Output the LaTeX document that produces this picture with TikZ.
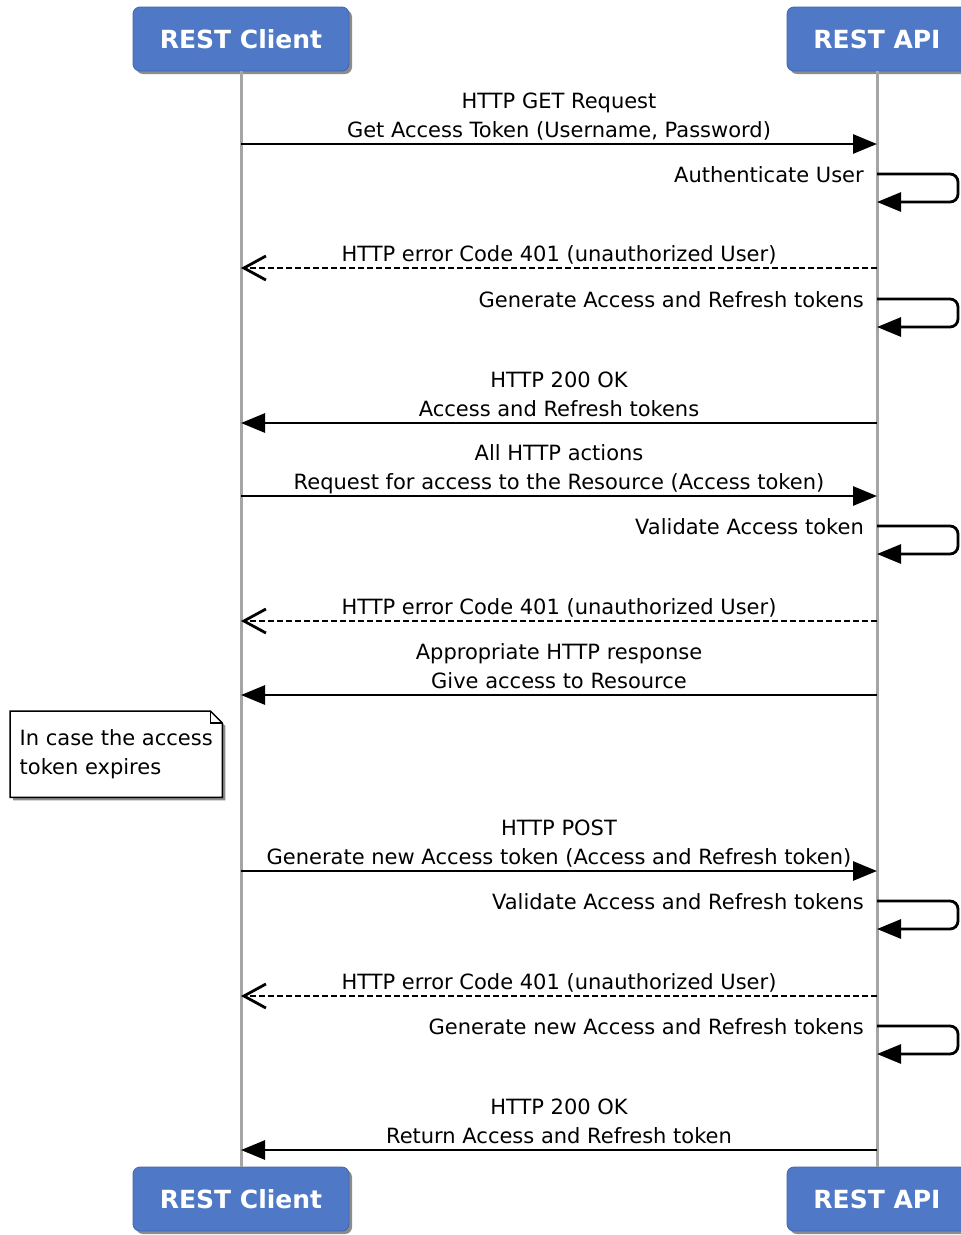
\documentclass[tikz,border=0pt]{standalone}
\usepackage{fontspec}
\setmainfont{DejaVu Sans}
\usetikzlibrary{arrows.meta,shadows,backgrounds}

\definecolor{actorblue}{RGB}{79,121,199}
\definecolor{actorline}{RGB}{64,100,172}
\definecolor{lifegray}{RGB}{165,165,165}

\tikzset{
	actor/.style={rectangle,rounded corners=7pt,fill=actorblue,draw=actorline,line width=0.8pt,text=white,font=\fontsize{25}{28}\selectfont\bfseries,minimum height=64pt,drop shadow={shadow xshift=3pt,shadow yshift=-3pt,opacity=0.45,fill=black}},
	lifeline/.style={draw=lifegray,line width=3pt},
	msgtext/.style={anchor=base,align=center,inner sep=0pt,font=\fontsize{21}{29}\selectfont},
	selftext/.style={anchor=base east,inner sep=0pt,font=\fontsize{21}{29}\selectfont},
	call/.style={line width=2.8pt,-{Triangle[length=24pt,width=19pt]}},
	reply/.style={line width=2.8pt,dash pattern=on 6pt off 3pt,-{Straight Barb[length=22pt,width=24pt]}},
	selfcall/.style={line width=2.8pt,rounded corners=8pt,-{Triangle[length=24pt,width=19pt]}},
	notebox/.style={rectangle,inner xsep=9pt,inner ysep=0pt,minimum width=212pt,minimum height=86pt,align=left,font=\fontsize{21}{29}\selectfont},
	noteline/.style={draw=black,line width=1.5pt,fill=white,drop shadow={shadow xshift=3pt,shadow yshift=-3pt,opacity=0.45,fill=black}}
}

\begin{document}
\begin{tikzpicture}[x=1pt,y=-1pt]
	
	\useasboundingbox (0,0) rectangle (961,1235);
	
	\node(clienttop) [actor,minimum width=216pt] at (241,39) {REST Client};
	
	\node(apitop) [actor,minimum width=180pt] at (877,39) {REST API};
	
	\node(clientbot) [actor,minimum width=216pt] at (241,1199) {REST Client};
	
	\node(apibot) [actor,minimum width=180pt] at (877,1199) {REST API};
	
	\draw[lifeline] (clienttop) -- (clientbot);
	
	\draw[lifeline] (apitop) -- (apibot);
	
	\coordinate (c1) at (241,144);
	\coordinate (a1) at (877,144);
	\coordinate (s1) at (877,174);
	\coordinate (s1end) at (877,202);
	\coordinate (r1) at (877,268);
	\coordinate (r1end) at (241,268);
	\coordinate (s2) at (877,299);
	\coordinate (s2end) at (877,327);
	\coordinate (a2) at (877,423);
	\coordinate (c2) at (241,423);
	\coordinate (c3) at (241,496);
	\coordinate (a3) at (877,496);
	\coordinate (s3) at (877,526);
	\coordinate (s3end) at (877,554);
	\coordinate (r2) at (877,621);
	\coordinate (r2end) at (241,621);
	\coordinate (a4) at (877,695);
	\coordinate (c4) at (241,695);
	\coordinate (c5) at (241,871);
	\coordinate (a5) at (877,871);
	\coordinate (s4) at (877,901);
	\coordinate (s4end) at (877,929);
	\coordinate (r3) at (877,996);
	\coordinate (r3end) at (241,996);
	\coordinate (s5) at (877,1026);
	\coordinate (s5end) at (877,1054);
	\coordinate (a6) at (877,1150);
	\coordinate (c6) at (241,1150);
	
	\node(gettoken) [msgtext] at (559,137) {HTTP GET Request\\Get Access Token (Username, Password)};
	
	\draw[call] (c1) -- (a1);
	
	\node(authuser) [selftext] at (864,182) {Authenticate User};
	
	\draw[selfcall] (s1) -- ++(81,0) -- ++(0,28) -- (s1end);
	
	\node(error1) [msgtext] at (559,261) {HTTP error Code 401 (unauthorized User)};
	
	\draw[reply] (r1) -- (r1end);
	
	\node(gentokens) [selftext] at (864,307) {Generate Access and Refresh tokens};
	
	\draw[selfcall] (s2) -- ++(81,0) -- ++(0,28) -- (s2end);
	
	\node(ok1) [msgtext] at (559,416) {HTTP 200 OK\\Access and Refresh tokens};
	
	\draw[call] (a2) -- (c2);
	
	\node(actions) [msgtext] at (559,489) {All HTTP actions\\Request for access to the Resource (Access token)};
	
	\draw[call] (c3) -- (a3);
	
	\node(validate) [selftext] at (864,534) {Validate Access token};
	
	\draw[selfcall] (s3) -- ++(81,0) -- ++(0,28) -- (s3end);
	
	\node(error2) [msgtext] at (559,614) {HTTP error Code 401 (unauthorized User)};
	
	\draw[reply] (r2) -- (r2end);
	
	\node(resource) [msgtext] at (559,688) {Appropriate HTTP response\\Give access to Resource};
	
	\draw[call] (a4) -- (c4);
	
	\node(note) [notebox,anchor=north west] at (10,711) {In case the access\\token expires};
	
	\begin{scope}[on background layer]
	\draw[noteline] (note.north west) -- ([xshift=-12pt]note.north east) -- ([yshift=-12pt]note.north east) -- (note.south east) -- (note.south west) -- cycle;
	\end{scope}
	
	\draw[line width=1.5pt] ([xshift=-12pt]note.north east) -- ([xshift=-12pt,yshift=-12pt]note.north east) -- ([yshift=-12pt]note.north east);
	
	\node(post) [msgtext] at (559,864) {HTTP POST\\Generate new Access token (Access and Refresh token)};
	
	\draw[call] (c5) -- (a5);
	
	\node(validateboth) [selftext] at (864,909) {Validate Access and Refresh tokens};
	
	\draw[selfcall] (s4) -- ++(81,0) -- ++(0,28) -- (s4end);
	
	\node(error3) [msgtext] at (559,989) {HTTP error Code 401 (unauthorized User)};
	
	\draw[reply] (r3) -- (r3end);
	
	\node(gennew) [selftext] at (864,1034) {Generate new Access and Refresh tokens};
	
	\draw[selfcall] (s5) -- ++(81,0) -- ++(0,28) -- (s5end);
	
	\node(ok2) [msgtext] at (559,1143) {HTTP 200 OK\\Return Access and Refresh token};
	
	\draw[call] (a6) -- (c6);
	
\end{tikzpicture}
\end{document}
